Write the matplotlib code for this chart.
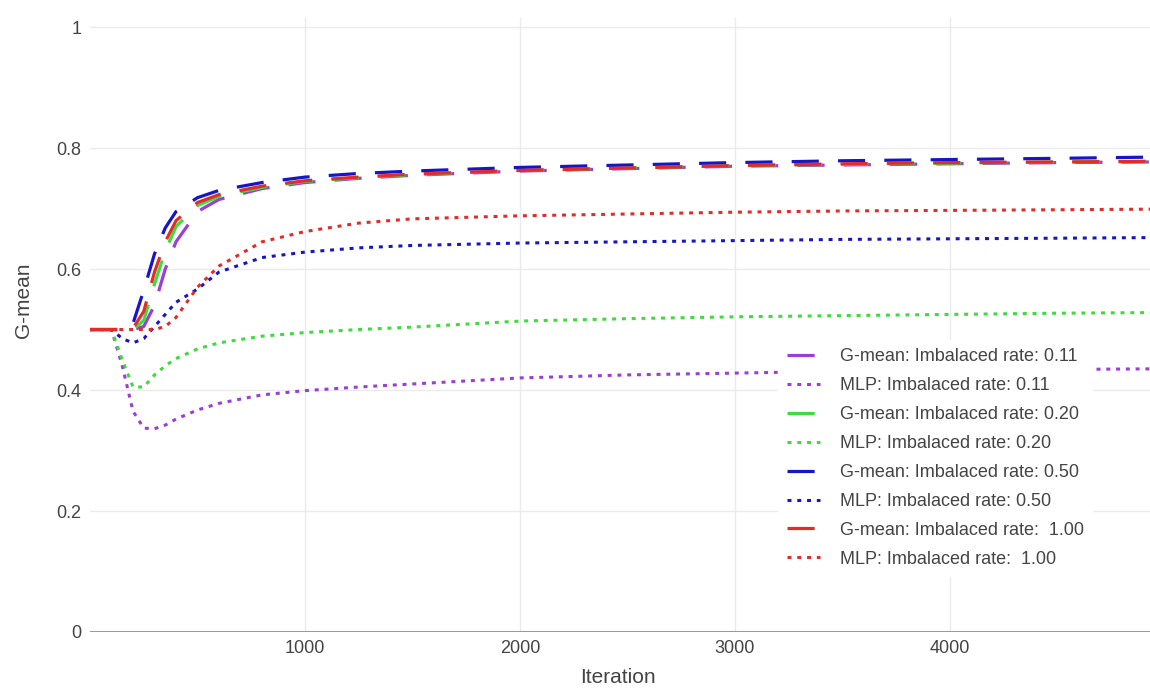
#!/usr/bin/env python3
"""G-mean vs iteration: G-mean training vs MLP for four imbalance rates."""
import matplotlib
matplotlib.use("Agg")
import matplotlib.pyplot as plt

plt.rcParams["font.family"] = ["Liberation Sans", "DejaVu Sans"]

iterations = [0, 100, 150, 200, 250, 300, 350, 400, 500, 600, 800, 1000,
              1250, 1500, 2000, 2500, 3000, 3500, 4000, 4500, 4930]

# G-mean curves (dashed)
gmean_011 = [0.500, 0.500, 0.500, 0.500, 0.505, 0.540, 0.600, 0.645, 0.695, 0.715, 0.733,
             0.743, 0.750, 0.755, 0.762, 0.766, 0.770, 0.772, 0.774, 0.776, 0.777]
gmean_020 = [0.500, 0.500, 0.500, 0.500, 0.515, 0.575, 0.630, 0.670, 0.705, 0.720, 0.735,
             0.745, 0.751, 0.756, 0.763, 0.767, 0.771, 0.773, 0.775, 0.777, 0.778]
gmean_050 = [0.500, 0.500, 0.500, 0.510, 0.565, 0.625, 0.668, 0.695, 0.718, 0.730, 0.743,
             0.752, 0.758, 0.762, 0.768, 0.772, 0.776, 0.779, 0.781, 0.783, 0.785]
gmean_100 = [0.500, 0.500, 0.500, 0.502, 0.530, 0.595, 0.645, 0.680, 0.710, 0.723, 0.737,
             0.746, 0.752, 0.757, 0.763, 0.767, 0.771, 0.774, 0.776, 0.777, 0.778]

# MLP curves (dotted)
mlp_011 = [0.500, 0.500, 0.440, 0.365, 0.337, 0.336, 0.342, 0.352, 0.367, 0.378, 0.392,
           0.399, 0.405, 0.410, 0.420, 0.425, 0.428, 0.431, 0.433, 0.434, 0.435]
mlp_020 = [0.500, 0.500, 0.450, 0.405, 0.405, 0.425, 0.440, 0.452, 0.468, 0.478, 0.489,
           0.495, 0.500, 0.504, 0.514, 0.518, 0.521, 0.523, 0.525, 0.527, 0.528]
mlp_050 = [0.500, 0.500, 0.485, 0.478, 0.485, 0.505, 0.525, 0.545, 0.567, 0.595, 0.619,
           0.628, 0.635, 0.639, 0.643, 0.645, 0.647, 0.649, 0.650, 0.651, 0.652]
mlp_100 = [0.500, 0.500, 0.500, 0.500, 0.500, 0.500, 0.505, 0.520, 0.570, 0.605, 0.645,
           0.662, 0.676, 0.683, 0.688, 0.691, 0.694, 0.696, 0.697, 0.698, 0.699]

rate_labels = ["0.11", "0.20", "0.50", " 1.00"]
colors = ["#9a3fd6", "#3ddc3d", "#1616c8", "#e42b2b"]

fig = plt.figure(figsize=(11.5, 6.89), dpi=100)
ax = fig.add_axes([90 / 1150, 57 / 689, 1060 / 1150, 614 / 689])

series = [(gmean_011, mlp_011), (gmean_020, mlp_020),
          (gmean_050, mlp_050), (gmean_100, mlp_100)]
for (g, m), lab, c in zip(series, rate_labels, colors):
    ax.plot(iterations, g, color=c, lw=2.3, dashes=(8.5, 6.0),
            label=f"G-mean: Imbalaced rate: {lab}")
    ax.plot(iterations, m, color=c, lw=2.2, dashes=(1.3, 1.9),
            label=f"MLP: Imbalaced rate: {lab}")

ax.set_xlim(0, 4930)
ax.set_ylim(0, 1.015)
ax.set_xticks([1000, 2000, 3000, 4000])
ax.set_yticks([0, 0.2, 0.4, 0.6, 0.8, 1.0])
ax.set_yticklabels(["0", "0.2", "0.4", "0.6", "0.8", "1"])
ax.grid(True, color="#ebebeb", lw=1)
ax.set_axisbelow(True)
ax.axhline(0, color="#9a9a9a", lw=2.2, zorder=1.5)
for s in ax.spines.values():
    s.set_visible(False)
ax.tick_params(length=0, labelsize=13, colors="#444444", pad=6)
ax.tick_params(axis="y", pad=6)

ax.set_xlabel("Iteration", fontsize=15, color="#444444")
ax.set_ylabel("G-mean", fontsize=15, color="#444444")
ax.xaxis.set_label_coords(0.498, -0.058)
ax.yaxis.set_label_coords(-0.054, 0.54)

leg = ax.legend(loc="upper left", bbox_to_anchor=(0.641, 0.49), fontsize=13,
                frameon=True, fancybox=False, handlelength=1.85, handletextpad=1.1,
                labelspacing=0.66, borderpad=0.45)
leg.get_frame().set_facecolor("white")
leg.get_frame().set_edgecolor("white")
leg.get_frame().set_alpha(1.0)
for t in leg.get_texts():
    t.set_color("#444444")

fig.savefig("out.png", dpi=100)
